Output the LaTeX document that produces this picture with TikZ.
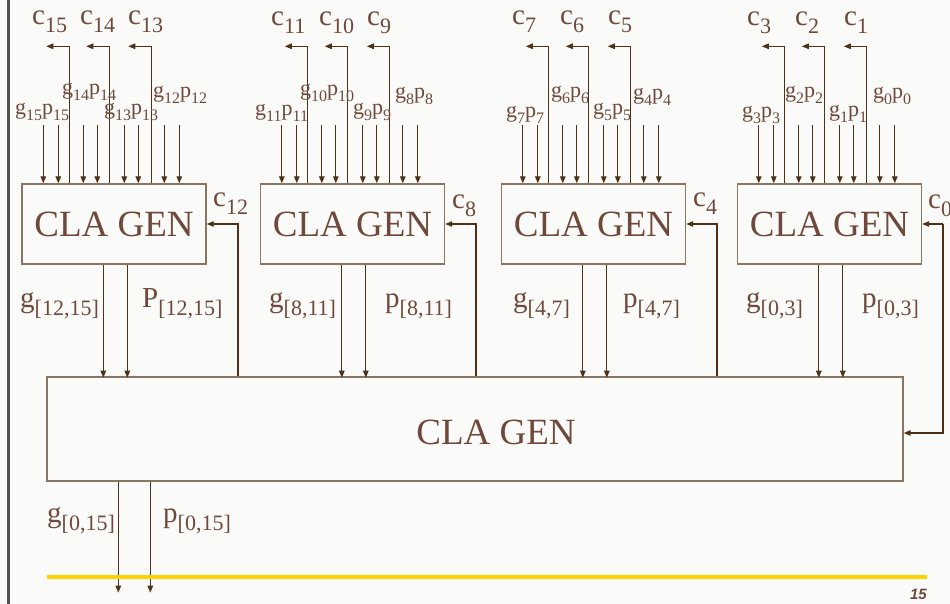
\documentclass[tikz,border=0pt]{standalone}
\usepackage{fontspec}
\setmainfont{Liberation Serif}
\newfontfamily\pagefont{Liberation Sans}
\usetikzlibrary{arrows.meta}
\definecolor{ink}{RGB}{110,72,58}
\definecolor{wire}{RGB}{78,50,24}
\definecolor{frame}{RGB}{135,118,100}
\definecolor{rulecol}{RGB}{255,210,0}
\definecolor{paper}{RGB}{250,250,248}
\definecolor{edgebar}{RGB}{80,80,80}
% subscripts for the large and the small labels
\newcommand\bsub[1]{\raisebox{-8pt}{\fontsize{22}{22}\selectfont #1}}
\newcommand\ssub[1]{\raisebox{-6pt}{\fontsize{16}{16}\selectfont #1}}
\begin{document}
\begin{tikzpicture}[x=1pt,y=-1pt,
  genbox/.style={draw=frame,line width=1.4pt,minimum width=184pt,minimum height=80pt,
    inner sep=0pt,font=\fontsize{37}{37}\selectfont,text=ink},
  arr/.style={draw=wire,line width=1.2pt,-{Triangle[length=7pt,width=5.5pt]}},
  lab/.style={inner sep=0pt,anchor=base west,text=ink},
  biglab/.style={lab,font=\fontsize{29}{29}\selectfont},
  smlab/.style={lab,font=\fontsize{22}{22}\selectfont}]

% page and its clip
\fill[paper] (0,0) rectangle (950,604);
\useasboundingbox (0,0) rectangle (950,604);
\clip (0,0) rectangle (950,604);
\draw[edgebar,line width=2.5pt] (8.5,0) -- (8.5,604);

% four 4-bit generators and the second-level generator
\node[genbox] (box1) at (114,224) {CLA GEN};
\node[genbox] (box2) at (352.5,224) {CLA GEN};
\node[genbox] (box3) at (593.5,224) {CLA GEN};
\node[genbox] (box4) at (829.5,224) {CLA GEN};
\node[draw=frame,line width=1.4pt,minimum width=856pt,minimum height=104pt,inner sep=0pt] (big) at (475,429) {};
\node[inner sep=0pt,text=ink,font=\fontsize{37}{37}\selectfont] (bigtext) at (496,432) {CLA GEN};

% g/p inputs and carry outputs of each block
\foreach \b in {box1,box2,box3,box4}{
  \foreach \o in {22,37,62,76,103,117,143,158}
    \draw[arr] ([xshift=\o pt,yshift=58pt]\b.north west) -- ([xshift=\o pt]\b.north west);
  \foreach \o in {48,88,130}
    \draw[arr] ([xshift=\o pt]\b.north west) -- ++(0pt,137pt) -- ++(-23pt,0pt);
  \foreach \o in {82,106}
    \draw[arr] ([xshift=\o pt]\b.south west) -- ++(0pt,-113pt);
}

% carries from the second level back into the blocks
\coordinate (t12) at (238,224);
\coordinate (t8) at (476,224);
\coordinate (t4) at (717,224);
\draw[arr] (t12 |- big.north) -- (t12) -- (box1.east);
\draw[arr] (t8 |- big.north) -- (t8) -- (box2.east);
\draw[arr] (t4 |- big.north) -- (t4) -- (box3.east);

% carry-in c0
\coordinate (c0j) at (943,224);
\coordinate (c0b) at (943,433);
\draw[arr] (c0j) -- (box4.east);
\draw[arr] (c0j) -- (c0b) -- (big.east |- c0b);

% group outputs
\draw[arr] ([xshift=72pt]big.south west) -- ++(0pt,-111pt);
\draw[arr] ([xshift=104pt]big.south west) -- ++(0pt,-111pt);

% carry labels
\node[biglab] (lc15) at (32,25) {c\bsub{15}};
\node[biglab] (lc14) at (80,25) {c\bsub{14}};
\node[biglab] (lc13) at (128,25) {c\bsub{13}};
\node[biglab] (lc11) at (271,26) {c\bsub{11}};
\node[biglab] (lc10) at (319,26) {c\bsub{10}};
\node[biglab] (lc9) at (367,26) {c\bsub{9}};
\node[biglab] (lc7) at (512,25) {c\bsub{7}};
\node[biglab] (lc6) at (560,25) {c\bsub{6}};
\node[biglab] (lc5) at (608,25) {c\bsub{5}};
\node[biglab] (lc3) at (747,26) {c\bsub{3}};
\node[biglab] (lc2) at (795,26) {c\bsub{2}};
\node[biglab] (lc1) at (844,26) {c\bsub{1}};
\node[biglab] (lc12) at (213,207) {c\bsub{12}};
\node[biglab] (lc8) at (452,208) {c\bsub{8}};
\node[biglab] (lc4) at (693,207) {c\bsub{4}};
\node[biglab] (lc0) at (928,208) {c\bsub{0}};

% generate/propagate input labels
\node[smlab] (lgp15) at (15,115) {g\ssub{15}p\ssub{15}};
\node[smlab] (lgp14) at (62,95) {g\ssub{14}p\ssub{14}};
\node[smlab] (lgp13) at (104,115) {g\ssub{13}p\ssub{13}};
\node[smlab] (lgp12) at (153,98) {g\ssub{12}p\ssub{12}};
\node[smlab] (lgp11) at (255,116) {g\ssub{11}p\ssub{11}};
\node[smlab] (lgp10) at (300,96) {g\ssub{10}p\ssub{10}};
\node[smlab] (lgp9) at (353,115) {g\ssub{9}p\ssub{9}};
\node[smlab] (lgp8) at (395,99) {g\ssub{8}p\ssub{8}};
\node[smlab] (lgp7) at (506,118) {g\ssub{7}p\ssub{7}};
\node[smlab] (lgp6) at (551,98) {g\ssub{6}p\ssub{6}};
\node[smlab] (lgp5) at (593,115) {g\ssub{5}p\ssub{5}};
\node[smlab] (lgp4) at (633,100) {g\ssub{4}p\ssub{4}};
\node[smlab] (lgp3) at (742,118) {g\ssub{3}p\ssub{3}};
\node[smlab] (lgp2) at (785,98) {g\ssub{2}p\ssub{2}};
\node[smlab] (lgp1) at (829,117) {g\ssub{1}p\ssub{1}};
\node[smlab] (lgp0) at (873,99) {g\ssub{0}p\ssub{0}};

% group generate/propagate labels
\node[biglab] (lg1215) at (20,307) {g\bsub{[12,15]}};
\node[biglab] (lp1215) at (142,307) {P\bsub{[12,15]}};
\node[biglab] (lg811) at (269,307) {g\bsub{[8,11]}};
\node[biglab] (lp811) at (385,307) {p\bsub{[8,11]}};
\node[biglab] (lg47) at (513,307) {g\bsub{[4,7]}};
\node[biglab] (lp47) at (623,307) {p\bsub{[4,7]}};
\node[biglab] (lg03) at (746,307) {g\bsub{[0,3]}};
\node[biglab] (lp03) at (862,307) {p\bsub{[0,3]}};
\node[biglab] (lg015) at (47,522) {g\bsub{[0,15]}};
\node[biglab] (lp015) at (163,522) {p\bsub{[0,15]}};

% footer rule and page number
\draw[rulecol,line width=3.5pt] (47,577) -- (927,577);
\node[inner sep=0pt,anchor=base east,text=ink,font=\pagefont\bfseries\itshape\fontsize{15}{15}\selectfont] (pageno) at (927,599) {15};
\end{tikzpicture}
\end{document}
